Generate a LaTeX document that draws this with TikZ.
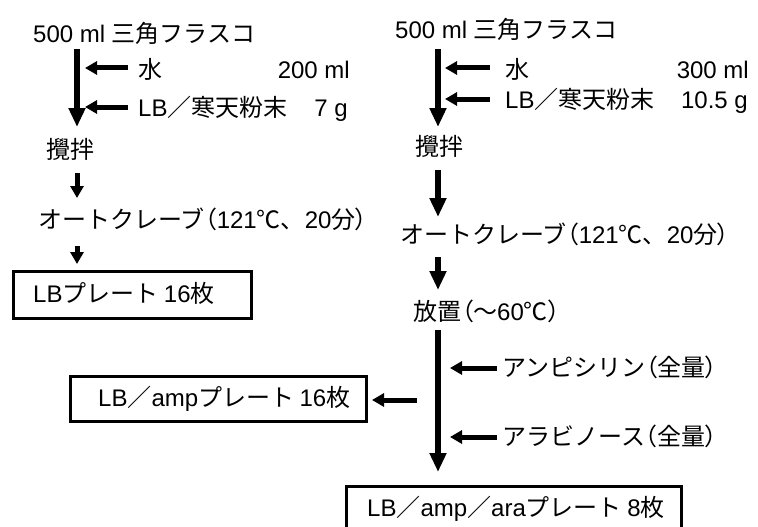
\documentclass[tikz,border=0pt]{standalone}
\usepackage{fontspec}
\setmainfont{Noto Sans CJK JP}
\newfontfamily\lat{Liberation Sans}
\newfontfamily\cjkp[RawFeature=+palt]{Noto Sans CJK JP}
\newcommand{\lpar}{{\cjkp （}}
\newcommand{\rpar}{{\cjkp ）}}
\usetikzlibrary{arrows.meta}
\begin{document}
\begin{tikzpicture}[x=1pt,y=-1pt,
  lbl/.style={anchor=west, inner sep=0pt, font=\fontsize{24}{28}\selectfont, text height=19pt, text depth=2pt},
  lble/.style={lbl, anchor=east},
  bigarrow/.style={line width=6pt, -{Triangle[width=16pt,length=19pt]}},
  smallarrow/.style={line width=5pt, -{Triangle[width=13pt,length=12pt]}},
  platebox/.style={draw, line width=3pt, inner sep=0pt, anchor=north west}]
\useasboundingbox (0,0) rectangle (758,527);
\fill[white] (0,0) rectangle (758,527);
\clip (0,0) rectangle (758,527);

% ---------- left column ----------
\node[lbl] (flaskL) at (33,34) {{\lat 500 ml }三角フラスコ};
\coordinate (aL1s) at (77,49);
\coordinate (aL1e) at (77,127);
\draw[bigarrow] (aL1s) -- (aL1e);

\node[lbl] (waterL) at (138,70) {水};
\node[lble] (waterLq) at (350,70) {\lat 200 ml};
\coordinate (wL1) at (128,68);
\coordinate (wL2) at (85,68);
\draw[smallarrow] (wL1) -- (wL2);

\node[lbl] (agarL) at (138,108) {{\lat LB}／寒天粉末};
\node[lble] (agarLq) at (348,108) {\lat 7 g};
\coordinate (gL1) at (128,107);
\coordinate (gL2) at (85,107);
\draw[smallarrow] (gL1) -- (gL2);

\node[lbl] (stirL) at (46,150) {攪拌};
\coordinate (aL2s) at (77,173);
\coordinate (aL2e) at (77,198);
\draw[smallarrow] (aL2s) -- (aL2e);

\node[lbl] (autoL) at (38,220) {オートクレーブ\lpar{\lat 121}℃、{\lat 20}分\rpar};
\coordinate (aL3s) at (77,246);
\coordinate (aL3e) at (77,264);
\draw[smallarrow] (aL3s) -- (aL3e);

\node[platebox, minimum width=238pt, minimum height=47pt] (boxL) at (12,270) {};
\node[lbl] (boxLt) at (33,293.5) {{\lat LB}プレート {\lat 16}枚};

% ---------- right column ----------
\node[lbl] (flaskR) at (395,30) {{\lat 500 ml }三角フラスコ};
\coordinate (aR1s) at (438,49);
\coordinate (aR1e) at (438,127);
\draw[bigarrow] (aR1s) -- (aR1e);

\node[lbl] (waterR) at (505,70) {水};
\node[lble] (waterRq) at (749,70) {\lat 300 ml};
\coordinate (wR1) at (490,68);
\coordinate (wR2) at (445,68);
\draw[smallarrow] (wR1) -- (wR2);

\node[lbl] (agarR) at (505,100) {{\lat LB}／寒天粉末};
\node[lble] (agarRq) at (748,100) {\lat 10.5 g};
\coordinate (gR1) at (490,99);
\coordinate (gR2) at (445,99);
\draw[smallarrow] (gR1) -- (gR2);

\node[lbl] (stirR) at (415,147) {攪拌};
\coordinate (aR2s) at (438,170);
\coordinate (aR2e) at (438,217);
\draw[bigarrow] (aR2s) -- (aR2e);

\node[lbl] (autoR) at (400,235) {オートクレーブ\lpar{\lat 121}℃、{\lat 20}分\rpar};
\coordinate (aR3s) at (438,257);
\coordinate (aR3e) at (438,290);
\draw[bigarrow] (aR3s) -- (aR3e);

\node[lbl] (restR) at (413,312) {放置\lpar～{\lat 60}℃\rpar};
\coordinate (aR4s) at (438,330);
\coordinate (aR4e) at (438,472);
\draw[bigarrow] (aR4s) -- (aR4e);

\node[lbl] (ampR) at (502,368) {アンピシリン\lpar 全量\rpar};
\coordinate (mR1) at (497,368);
\coordinate (mR2) at (450,368);
\draw[smallarrow] (mR1) -- (mR2);

\node[lbl] (araR) at (502,437) {アラビノース\lpar 全量\rpar};
\coordinate (rR1) at (497,437);
\coordinate (rR2) at (450,437);
\draw[smallarrow] (rR1) -- (rR2);

\node[platebox, minimum width=296pt, minimum height=45pt] (boxAmp) at (69,375) {};
\node[lbl] (boxAmpt) at (98,397.5) {{\lat LB}／{\lat amp}プレート {\lat 16}枚};
\coordinate (pA1) at (417,400);
\coordinate (pA2) at (372,400);
\draw[smallarrow] (pA1) -- (pA2);

\node[platebox, minimum width=335pt, minimum height=46pt] (boxAra) at (345,485) {};
\node[lbl] (boxArat) at (367,508) {{\lat LB}／{\lat amp}／{\lat ara}プレート {\lat 8}枚};
\end{tikzpicture}
\end{document}
